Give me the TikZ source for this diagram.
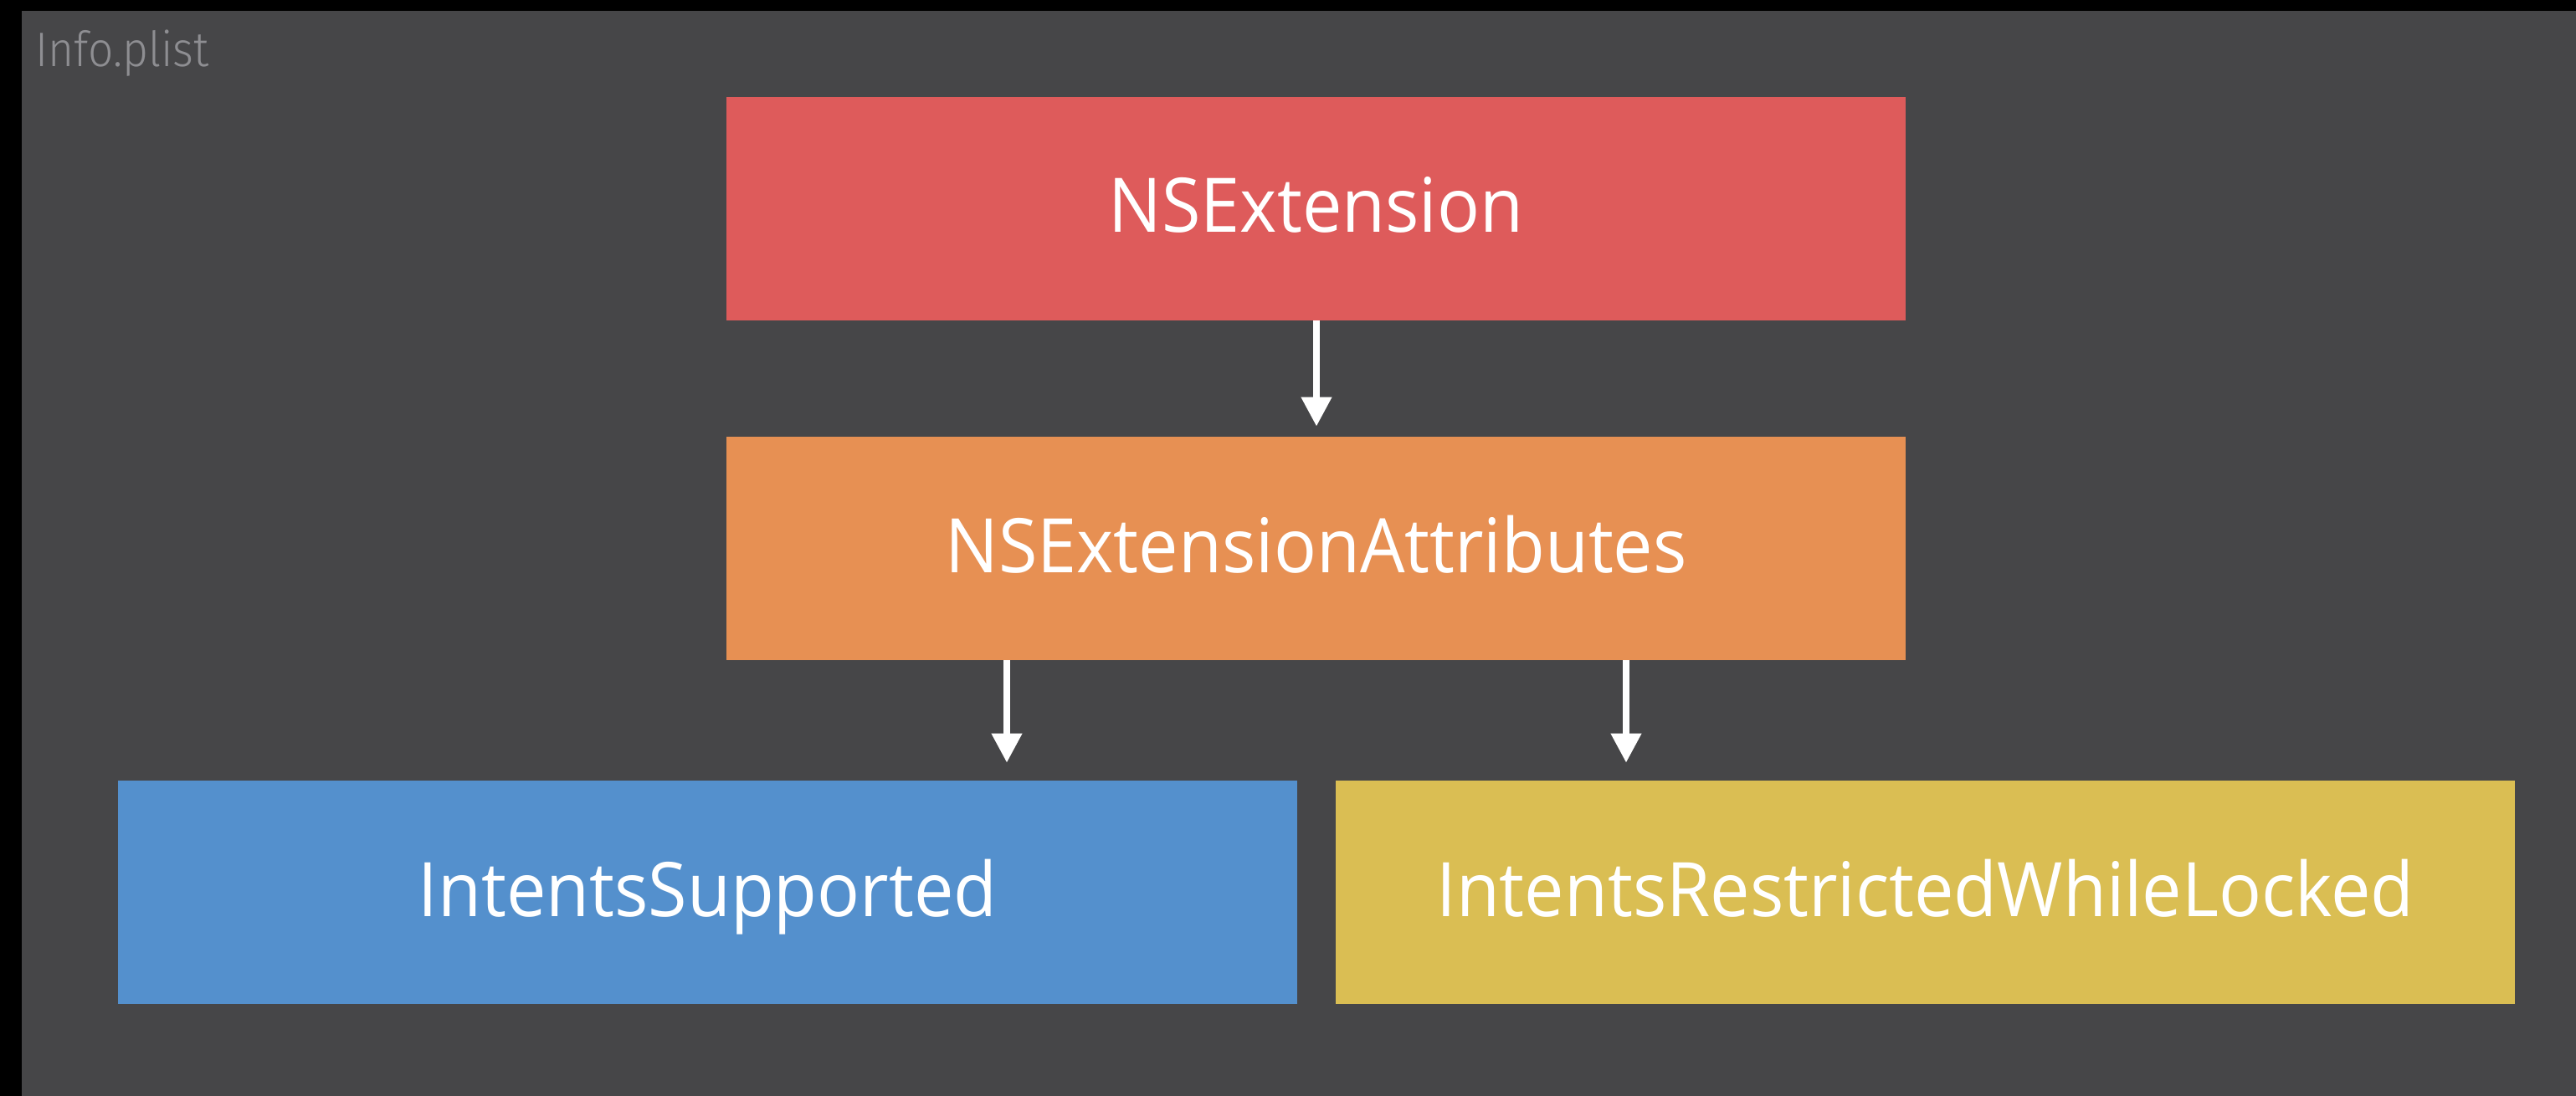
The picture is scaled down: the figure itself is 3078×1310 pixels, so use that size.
\documentclass[tikz,border=0pt]{standalone}
\usepackage{fontspec}
\setmainfont{Open Sans}[FakeStretch=0.94]
\newfontfamily\lightfont{Fira Sans Light}[FakeStretch=0.92]
\usetikzlibrary{arrows.meta}
\definecolor{frame}{RGB}{0,0,0}
\definecolor{panel}{RGB}{70,70,72}
\definecolor{cred}{RGB}{222,91,91}
\definecolor{corange}{RGB}{231,144,83}
\definecolor{cblue}{RGB}{84,144,205}
\definecolor{cyellow}{RGB}{218,190,83}
\definecolor{labelgray}{RGB}{142,142,146}
\tikzset{
  keybox/.style={rectangle, inner sep=0pt, minimum width=704.5pt, minimum height=133.5pt,
    text height=28.5pt, text depth=0pt,
    text=white, font=\fontsize{45}{54}\selectfont},
  arr/.style={draw=white, line width=3.75pt,
    -{Triangle[width=17.5pt, length=17.5pt]}},
}
\begin{document}
\begin{tikzpicture}[x=0.5pt, y=-0.5pt]
  \useasboundingbox (0,0) rectangle (3078,1310);
  \fill[frame] (0,0) rectangle (3078,1310);
  \fill[panel] (26,13) rectangle (3078,1310);

  \node[anchor=base west, text=labelgray, inner sep=0pt,
        font=\lightfont\fontsize{29}{34}\selectfont] (title) at (42,80) {Info.plist};

  \node[keybox, fill=cred] (ext) at (1572.5,249.5) {NSExtension};
  \node[keybox, fill=corange] (attr) at (1572.5,655.5) {NSExtensionAttributes};
  \node[keybox, fill=cblue] (supp) at (845.5,1066.5) {IntentsSupported};
  \node[keybox, fill=cyellow] (locked) at (2300.5,1066.5) {IntentsRestrictedWhileLocked};

  \coordinate (mx) at (1573,0);
  \coordinate (lx) at (1203,0);
  \coordinate (rx) at (1943,0);

  \draw[arr, shorten >=6pt] (ext.south -| mx) -- (attr.north -| mx);
  \draw[arr, shorten >=10.5pt] (attr.south -| lx) -- (supp.north -| lx);
  \draw[arr, shorten >=10.5pt] (attr.south -| rx) -- (locked.north -| rx);
\end{tikzpicture}
\end{document}
